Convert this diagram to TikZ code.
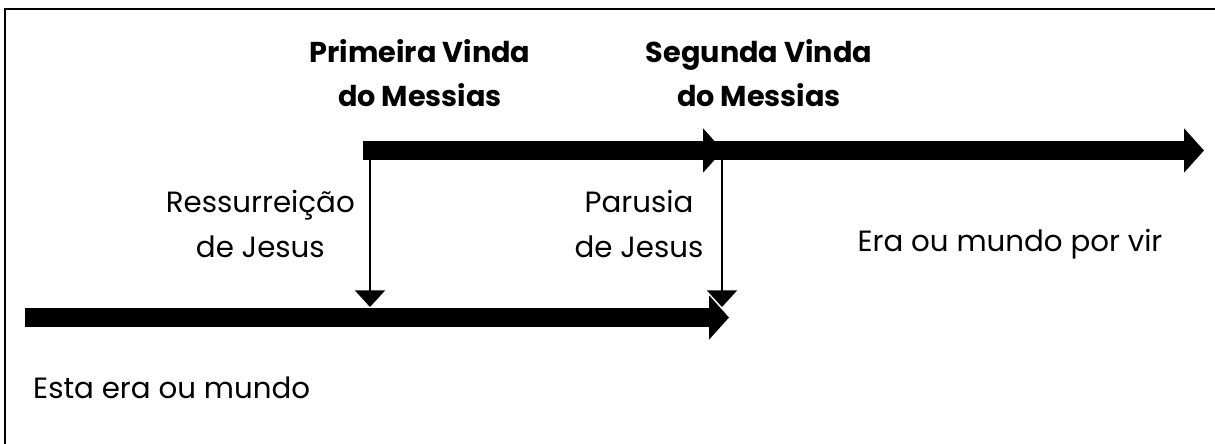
\documentclass[tikz,border=0pt]{standalone}
\usepackage{fontspec}
\setmainfont{Poppins}
\usepackage{tikz}
\usetikzlibrary{positioning,arrows.meta,calc}

\begin{document}
\begin{tikzpicture}[x=0.03cm,y=-0.03cm,
                    every node/.style={font=\fontsize{25}{38}\selectfont,inner sep=0pt,align=center},
                    era/.style={line width=0.57cm,-{Triangle[length=0.6cm,width=1.3cm]}},
                    event/.style={line width=0.06cm,-{Triangle[length=0.5cm,width=0.9cm]}},
                    title/.style={font=\fontsize{24.5}{38}\selectfont\bfseries}]
  \useasboundingbox (0,0) rectangle (1215,443);
  \draw[line width=0.08cm] (5,460) -- (5,9) -- (1230,9);

  % the two ages
  \coordinate (now0) at (25,317.5);
  \coordinate (now1) at (729,317.5);
  \coordinate (come0) at (363,150.5);
  \coordinate (come1) at (723,150.5);
  \coordinate (come2) at (1204,150.5);
  \draw[era] (now0) -- (now1);
  \draw[era] (come0) -- (come1);
  \draw[era] ($(come1)+(-18,0)$) -- (come2);

  % events
  \coordinate (res0) at (370,160);
  \coordinate (res1) at (370,307);
  \coordinate (par0) at (722,160);
  \coordinate (par1) at (722,307);
  \draw[event] (res0) -- (res1);
  \draw[event] (par0) -- (par1);

  \node[title] (first)  at (420,73) {Primeira Vinda\\do Messias};
  \node[title] (second) at (759,73) {Segunda Vinda\\do Messias};
  \node[left=4.5mm of {(370,224)}] (resur) {Ressurreição\\de Jesus};
  \node[left=5.5mm of {(722,224)}] (parus) {Parusia\\de Jesus};
  \node (future) at (1010,244) {Era ou mundo por vir};
  \node[anchor=west] (present) at (33,388) {Esta era ou mundo};
\end{tikzpicture}
\end{document}
